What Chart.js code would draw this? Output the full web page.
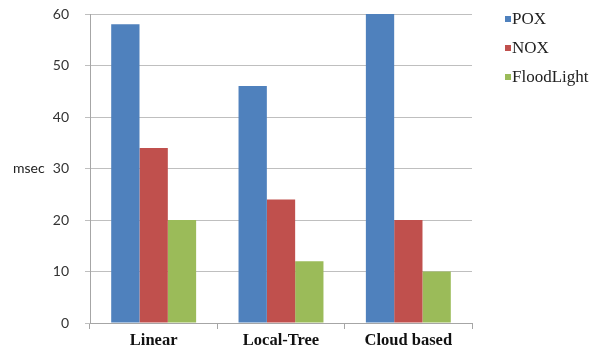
<!DOCTYPE html>
<html>
<head>
<meta charset="utf-8">
<script src="https://cdn.jsdelivr.net/npm/chart.js@4"></script>
<style>
  html, body { margin: 0; padding: 0; background: #fff; }
  #wrap { width: 606px; height: 353px; position: relative; }
</style>
</head>
<body>
<div id="wrap"><canvas id="latencyChart"></canvas></div>
<script>
// values
const topologies = ['Linear', 'Local-Tree', 'Cloud based'];
const controllers = ['POX', 'NOX', 'FloodLight'];
const poxMs = [58, 46, 60];
const noxMs = [34, 24, 20];
const floodlightMs = [20, 12, 10];
const barColors = ['#4F81BD', '#C0504D', '#9BBB59'];
const yTicks = [0, 10, 20, 30, 40, 50, 60];

// axis title written flat, and a plain legend on the right
const sidePieces = {
    id: 'sidePieces',
    afterDraw(chart) {
        const ctx = chart.ctx;
        const y = chart.scales.y;
        ctx.save();
        ctx.fillStyle = '#222';
        ctx.font = '14px Lato, sans-serif';
        ctx.textBaseline = 'middle';
        ctx.textAlign = 'left';
        ctx.fillText('msec', 13, y.getPixelForValue(30));

        ctx.font = '17px "Liberation Serif", serif';
        chart.data.datasets.forEach((ds, i) => {
            const ly = 19 + i * 29;
            ctx.fillStyle = ds.backgroundColor;
            ctx.fillRect(505, ly - 3, 6, 6);
            ctx.fillStyle = '#222';
            ctx.fillText(ds.label, 512, ly + 1);
        });
        ctx.restore();
    }
};

new Chart(document.getElementById('latencyChart'), {
    type: 'bar',
    data: {
        labels: topologies,
        datasets: [
            { label: controllers[0], data: poxMs, backgroundColor: barColors[0] },
            { label: controllers[1], data: noxMs, backgroundColor: barColors[1] },
            { label: controllers[2], data: floodlightMs, backgroundColor: barColors[2] }
        ]
    },
    options: {
        responsive: true,
        maintainAspectRatio: false,
        animation: false,
        layout: { padding: { left: 53, right: 134, top: 0, bottom: 0 } },
        datasets: { bar: { categoryPercentage: 0.667, barPercentage: 1 } },
        scales: {
            x: {
                afterFit(axis) { axis.height = 30; },
                grid: { drawOnChartArea: false, tickLength: 6, color: '#a6a6a6' },
                border: { color: '#a6a6a6' },
                ticks: {
                    color: '#111',
                    padding: 2,
                    font: { family: '"Liberation Serif", serif', size: 16.5, weight: 'bold' }
                }
            },
            y: {
                min: 0,
                max: 60,
                afterBuildTicks(axis) { axis.ticks = yTicks.map(v => ({ value: v })); },
                afterFit(axis) { axis.width = 37; axis.paddingTop = 14; axis.paddingBottom = 0; },
                grid: { color: '#bfbfbf', tickLength: 5 },
                border: { color: '#a6a6a6' },
                ticks: {
                    color: '#333',
                    padding: 16,
                    font: { family: 'Lato, sans-serif', size: 14 }
                }
            }
        },
        plugins: {
            legend: { display: false },
            tooltip: { enabled: false }
        }
    },
    plugins: [sidePieces]
});
</script>
</body>
</html>
